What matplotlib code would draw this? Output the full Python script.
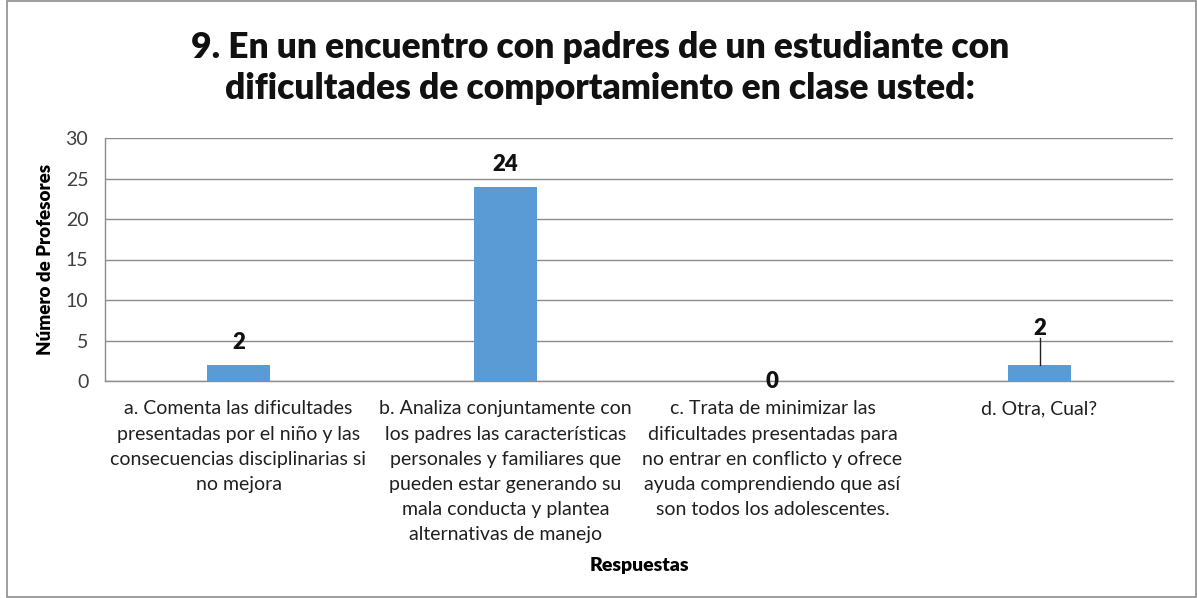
import matplotlib
matplotlib.use("Agg")
import matplotlib.pyplot as plt
from matplotlib.patches import Rectangle

categories = [
    "a. Comenta las dificultades\npresentadas por el niño y las\nconsecuencias disciplinarias si\nno mejora",
    "b. Analiza conjuntamente con\nlos padres las características\npersonales y familiares que\npueden estar generando su\nmala conducta y plantea\nalternativas de manejo",
    "c. Trata de minimizar las\ndificultades presentadas para\nno entrar en conflicto y ofrece\nayuda comprendiendo que así\nson todos los adolescentes.",
    "d. Otra, Cual?",
]
values = [2, 24, 0, 2]
yticks = [0, 5, 10, 15, 20, 25, 30]
title = "9. En un encuentro con padres de un estudiante con\ndificultades de comportamiento en clase usted:"

plt.rcParams['font.family'] = ['Lato', 'DejaVu Sans']

fig = plt.figure(figsize=(11.97, 5.98), dpi=100)
ax = fig.add_axes([105/1197, 1 - 381/598, (1173-105)/1197, (381-138)/598])

x = list(range(len(categories)))
ax.bar(x, values, width=0.236, color="#5B9BD5", zorder=3)
ax.set_xlim(-0.5, len(categories) - 0.5)
ax.set_ylim(0, 30)
ax.set_yticks(yticks)
ax.set_yticklabels([str(t) for t in yticks], fontsize=14, color="#404040")
ax.set_xticks(x)
ax.set_xticklabels(categories, fontsize=14, color="#202020", linespacing=1.58)
ax.tick_params(axis='both', length=0)
ax.tick_params(axis='y', pad=12)
ax.tick_params(axis='x', pad=14)
ax.yaxis.grid(True, color="#8C8C8C", linewidth=1, zorder=0)
for s in ["top", "right"]:
    ax.spines[s].set_visible(False)
for s in ["left", "bottom"]:
    ax.spines[s].set_color("#8C8C8C")
    ax.spines[s].set_linewidth(1)

# value labels
for i, v in enumerate(values):
    if i == 3:
        ax.text(i, v + 4.5, str(v), ha="center", va="center", fontsize=16, fontweight="heavy", color="#111111")
        ax.plot([i, i], [v, v + 3.3], color="#202020", linewidth=1, zorder=4)
    elif v == 0:
        ax.text(i, v - 0.1, str(v), ha="center", va="center", fontsize=16, fontweight="heavy", color="#111111")
    else:
        ax.text(i, v + 2.7, str(v), ha="center", va="center", fontsize=16, fontweight="heavy", color="#111111")

ax.set_ylabel("Número de Profesores", fontsize=13.5, fontweight="heavy", labelpad=8)
fig.text(639/1197, 1 - 565/598, "Respuestas", ha="center", va="center", fontsize=14, fontweight="heavy")

fig.text(600/1197, 1 - 68/598, title, ha="center", va="center", fontsize=25.5, fontweight="heavy",
         linespacing=1.3, color="#111111")

fig.patches.append(Rectangle((7/1197, 0.002), 1 - 8/1197, 0.996, transform=fig.transFigure,
                             fill=False, edgecolor="#8C8C8C", linewidth=1.2))

fig.savefig("out.png", dpi=100, facecolor="white")
